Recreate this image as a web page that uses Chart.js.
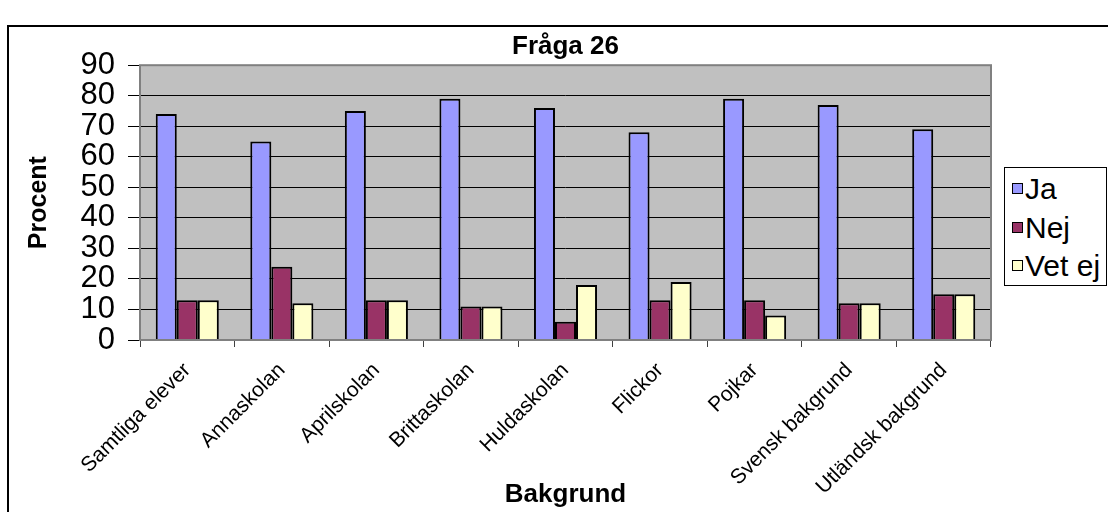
<!DOCTYPE html>
<html>
<head>
<meta charset="utf-8">
<title>Fråga 26</title>
<script src="https://cdn.jsdelivr.net/npm/chart.js"></script>
<style>
  body { margin: 0; background: #fff; }
  #wrap { position: relative; width: 1108px; height: 512px; overflow: hidden; background: #fff; }
  #frame { position: absolute; left: 7px; top: 25px; width: 1200px; height: 600px; border-left: 2px solid #000; border-top: 2px solid #000; }
  #chart { position: absolute; left: 0; top: 0; }
  #legend { position: absolute; left: 1004px; top: 167px; width: 101px; height: 117px; border: 1px solid #000; background: #fff;
            font-family: Arial, 'Liberation Sans', sans-serif; font-size: 30px; color: #000; }
  .item { position: absolute; left: 7px; height: 34px; line-height: 34px; white-space: nowrap; }
  .swatch { display: inline-block; width: 9px; height: 9px; border: 1px solid #000; vertical-align: middle; margin-top: -5px; }
  .txt { display: inline-block; margin-left: 2px; }
</style>
</head>
<body>
<div id="wrap">
  <div id="frame"></div>
  <canvas id="chart" width="1108" height="512"></canvas>
  <div id="legend"></div>
</div>
<script>
// data
const categories = ['Samtliga elever', 'Annaskolan', 'Aprilskolan', 'Brittaskolan', 'Huldaskolan',
                    'Flickor', 'Pojkar', 'Svensk bakgrund', 'Utländsk bakgrund'];
const seriesNames = ['Ja', 'Nej', 'Vet ej'];
const ja    = [74, 65, 75, 79, 76, 68, 79, 77, 69];
const nej   = [13, 24, 13, 11,  6, 13, 13, 12, 15];
const vetEj = [13, 12, 13, 11, 18, 19,  8, 12, 15];
const seriesColors = ['#9999FF', '#993366', '#FFFFCC'];
const yMin = 0, yMax = 90, yStep = 10;

const font = "Arial, 'Liberation Sans', sans-serif";

// grey plot area with a grey edge, like the old Excel charts
const plotArea = {
    id: 'plotArea',
    beforeDraw(chart) {
        const a = chart.chartArea, ctx = chart.ctx;
        ctx.save();
        ctx.fillStyle = '#C0C0C0';
        ctx.fillRect(a.left, a.top, a.right - a.left, a.bottom - a.top);
        ctx.restore();
    },
    afterDraw(chart) {
        const a = chart.chartArea, ctx = chart.ctx;
        ctx.save();
        ctx.strokeStyle = '#808080';
        ctx.lineWidth = 2;
        ctx.strokeRect(a.left, a.top, a.right - a.left, a.bottom - a.top);
        ctx.restore();
    }
};

const values = [ja, nej, vetEj];
const datasets = seriesNames.map((name, i) => ({
    label: name,
    data: values[i],
    backgroundColor: seriesColors[i],
    borderColor: '#000',
    borderWidth: 2,
    borderSkipped: 'bottom',
    categoryPercentage: 0.667,
    barPercentage: 1.0
}));

const ctx = document.getElementById('chart').getContext('2d');
const myChart = new Chart(ctx, {
    type: 'bar',
    data: { labels: categories, datasets: datasets },
    plugins: [plotArea],
    options: {
        responsive: false,
        animation: false,
        layout: { padding: { left: 20, right: 117, top: 26, bottom: 0 } },
        plugins: {
            legend: { display: false },
            tooltip: { enabled: false },
            title: {
                display: true,
                fullSize: false,
                text: 'Fråga 26',
                color: '#000',
                font: { family: font, size: 26, weight: 'bold' },
                padding: { top: 5, bottom: 3 }
            }
        },
        scales: {
            x: {
                grid: { drawOnChartArea: false, drawTicks: true, tickLength: 7, tickColor: '#404040', offset: true },
                border: { display: false },
                ticks: { color: '#000', font: { family: font, size: 21 }, minRotation: 45, maxRotation: 45, autoSkip: false, padding: 11 },
                title: { display: true, text: 'Bakgrund', color: '#000', font: { family: font, size: 26, weight: 'bold' }, padding: { top: 0, bottom: 2 } },
                afterFit(scale) { scale.height = 172; }
            },
            y: {
                min: yMin,
                max: yMax,
                grid: { color: '#000', lineWidth: 1, drawTicks: true, tickLength: 12, tickColor: '#000' },
                border: { display: false },
                ticks: { stepSize: yStep, autoSkip: false, color: '#000', font: { family: font, size: 31 }, padding: 13 },
                title: { display: true, text: 'Procent', color: '#000', font: { family: font, size: 25, weight: 'bold' }, padding: { top: 4, bottom: 0 } },
                afterFit(scale) { scale.width = 120; }
            }
        }
    }
});

// legend box, built from the same series
const legend = document.getElementById('legend');
const rowCenters = [21, 60, 98];
seriesNames.forEach((name, i) => {
    const row = document.createElement('div');
    row.className = 'item';
    row.style.top = (rowCenters[i] - 17) + 'px';
    row.innerHTML = '<span class="swatch" style="background:' + seriesColors[i] + '"></span><span class="txt">' + name + '</span>';
    legend.appendChild(row);
});
</script>
</body>
</html>
